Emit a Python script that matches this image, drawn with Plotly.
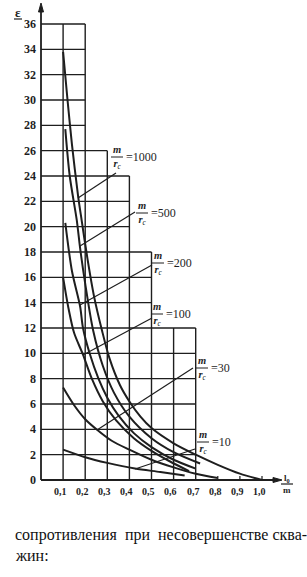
import plotly.graph_objects as go

# ---------------- data ----------------
ratios = ["1000", "500", "200", "100", "30", "10"]

h_1000 = [0.10, 0.12, 0.14, 0.168, 0.184, 0.21, 0.24, 0.276, 0.31, 0.357, 0.40, 0.45, 0.50, 0.60, 0.70, 0.80, 0.90, 1.00]
e_1000 = [33.8, 30.0, 26.5, 22.4, 20.5, 17.5, 14.5, 11.8, 9.6, 7.5, 6.2, 5.0, 4.1, 2.9, 2.0, 1.2, 0.5, 0.0]

h_500 = [0.11, 0.13, 0.162, 0.177, 0.20, 0.236, 0.28, 0.33, 0.40, 0.50, 0.60, 0.72]
e_500 = [27.7, 24.0, 20.5, 18.3, 15.5, 11.8, 9.0, 6.9, 5.0, 3.3, 2.2, 1.3]

h_200 = [0.11, 0.14, 0.177, 0.19, 0.22, 0.26, 0.30, 0.35, 0.42, 0.50, 0.60, 0.70]
e_200 = [20.3, 16.5, 13.7, 12.0, 10.0, 8.0, 6.5, 5.1, 3.7, 2.6, 1.6, 0.9]

h_100 = [0.10, 0.125, 0.15, 0.19, 0.23, 0.28, 0.34, 0.42, 0.50, 0.58, 0.67]
e_100 = [16.0, 13.5, 11.6, 9.9, 8.0, 6.2, 4.7, 3.3, 2.3, 1.5, 0.7]

h_30 = [0.10, 0.15, 0.20, 0.255, 0.32, 0.40, 0.50, 0.60, 0.70, 0.80]
e_30 = [7.3, 5.9, 4.8, 3.95, 3.1, 2.4, 1.6, 1.0, 0.5, 0.15]

h_10 = [0.10, 0.20, 0.30, 0.425, 0.54, 0.65]
e_10 = [2.4, 1.8, 1.35, 0.9, 0.63, 0.35]

x_ticks = [0.1, 0.2, 0.3, 0.4, 0.5, 0.6, 0.7, 0.8, 0.9, 1.0]
x_tick_labels = ["0,1", "0,2", "0,3", "0,4", "0,5", "0,6", "0,7", "0,8", "0,9", "1,0"]
y_ticks = list(range(0, 37, 2))
y_tick_labels = [str(v) for v in y_ticks]

caption_lines = ["сопротивления  при  несовершенстве сква-", "жин:"]

# ---------------- layout helpers ----------------
W, H = 307, 577
X0PX, X1PX = 41.0, 262.0      # pixel of h=0 and h=1
Y0PX, Y36PX = 480.0, 24.0     # pixel of eps=0 and eps=36
SX = (X1PX - X0PX) / 1.0
SY = (Y0PX - Y36PX) / 36.0


def dx(px):
    return (px - X0PX) / SX


def dy(py):
    return (Y0PX - py) / SY


INK = "#1e1e1e"
SERIF = "Liberation Serif"

fig = go.Figure()

# stepped grid: vertical lines (h, top eps) and horizontal lines (eps, right h)
v_grid = [(0.1, 36), (0.2, 36), (0.3, 26), (0.4, 24), (0.5, 18), (0.6, 12), (0.7, 12)]
h_grid = [(36, 0.2), (34, 0.2), (32, 0.2), (30, 0.2), (28, 0.2), (26, 0.3),
          (24, 0.4), (22, 0.4), (20, 0.4), (18, 0.5), (16, 0.5), (14, 0.5),
          (12, 0.7), (10, 0.7), (8, 0.7), (6, 0.7), (4, 0.7), (2, 0.7)]

shapes = []
for xv, top in v_grid:
    shapes.append(dict(type="line", xref="x", yref="y", x0=xv, x1=xv, y0=0, y1=top,
                       line=dict(color=INK, width=1.4)))
for yv, right in h_grid:
    shapes.append(dict(type="line", xref="x", yref="y", x0=0, x1=right, y0=yv, y1=yv,
                       line=dict(color=INK, width=1.4)))

# axes
shapes.append(dict(type="line", xref="x", yref="y", x0=0, x1=dx(276), y0=0, y1=0,
                   line=dict(color=INK, width=1.8)))
shapes.append(dict(type="line", xref="x", yref="y", x0=0, x1=0, y0=0, y1=dy(8),
                   line=dict(color=INK, width=1.8)))
# small ticks on x axis beyond grid
for xv in [0.8, 0.9, 1.0]:
    shapes.append(dict(type="line", xref="x", yref="y", x0=xv, x1=xv, y0=0, y1=dy(476),
                       line=dict(color=INK, width=1.2)))

# arrowheads
shapes.append(dict(type="path", xref="x", yref="y",
                   path=f"M {dx(41)} {dy(3)} L {dx(38.5)} {dy(12)} L {dx(43.5)} {dy(12)} Z",
                   fillcolor=INK, line=dict(color=INK, width=1)))
shapes.append(dict(type="path", xref="x", yref="y",
                   path=f"M {dx(282)} {dy(480)} L {dx(273)} {dy(477.5)} L {dx(273)} {dy(482.5)} Z",
                   fillcolor=INK, line=dict(color=INK, width=1)))

# curves
curve_data = [(h_1000, e_1000), (h_500, e_500), (h_200, e_200),
              (h_100, e_100), (h_30, e_30), (h_10, e_10)]
for name, (hx, ey) in zip(ratios, curve_data):
    fig.add_trace(go.Scatter(x=hx, y=ey, mode="lines", name=name,
                             line=dict(color=INK, width=2, shape="spline", smoothing=0.8),
                             hoverinfo="skip", showlegend=False))

annotations = []

# tick labels
for xv, lab in zip(x_ticks, x_tick_labels):
    annotations.append(dict(x=xv - 0.012, y=dy(491), xref="x", yref="y", text=f"<b>{lab}</b>",
                            showarrow=False, xanchor="center", yanchor="middle",
                            font=dict(family=SERIF, size=10, color=INK)))
for yv, lab in zip(y_ticks, y_tick_labels):
    annotations.append(dict(x=dx(38), y=yv, xref="x", yref="y", text=f"<b>{lab}</b>",
                            showarrow=False, xanchor="right", yanchor="middle",
                            font=dict(family=SERIF, size=12, color=INK)))

# axis titles
annotations.append(dict(x=dx(18), y=dy(12), xref="x", yref="y", text="<b>ε</b>",
                        showarrow=False, xanchor="center", yanchor="middle",
                        font=dict(family=SERIF, size=13, color=INK)))
shapes.append(dict(type="line", xref="x", yref="y", x0=dx(14), x1=dx(22), y0=dy(19), y1=dy(19),
                   line=dict(color=INK, width=1.2)))
annotations.append(dict(x=dx(287), y=dy(484), xref="x", yref="y",
                        text="<b>l<sub>0</sub></b><br><b>m</b>",
                        showarrow=False, xanchor="center", yanchor="middle",
                        font=dict(family=SERIF, size=9, color=INK)))
shapes.append(dict(type="line", xref="x", yref="y", x0=dx(281), x1=dx(293), y0=dy(484), y1=dy(484),
                   line=dict(color=INK, width=1.2)))

# curve labels: (fraction centre/line px, leader start px, leader end px)
label_pos = {
    "1000": ((117, 157), (116, 173), (78, 198)),
    "500": ((142, 213), (135, 212), (80, 246)),
    "200": ((158, 263), (152, 265), (80, 305)),
    "100": ((157, 314), (152, 318), (83, 355)),
    "30": ((202, 368), (193, 368), (97, 430)),
    "10": ((203, 442), (195, 449), (135, 469)),
}
for name in ratios:
    (cx, cy), (lx0, ly0), (lx1, ly1) = label_pos[name]
    annotations.append(dict(x=dx(cx), y=dy(cy), xref="x", yref="y",
                            text="<i><b>m</b></i><br><i><b>r</b></i><sub><i>c</i></sub>",
                            showarrow=False, xanchor="center", yanchor="middle",
                            font=dict(family=SERIF, size=10.5, color=INK)))
    annotations.append(dict(x=dx(cx + 7), y=dy(cy), xref="x", yref="y", text="=" + name,
                            showarrow=False, xanchor="left", yanchor="middle",
                            font=dict(family=SERIF, size=12, color=INK)))
    shapes.append(dict(type="line", xref="x", yref="y", x0=dx(cx - 6), x1=dx(cx + 6),
                       y0=dy(cy), y1=dy(cy), line=dict(color=INK, width=1)))
    shapes.append(dict(type="line", xref="x", yref="y", x0=dx(lx0), x1=dx(lx1),
                       y0=dy(ly0), y1=dy(ly1), line=dict(color=INK, width=1.2)))

# caption
for i, line in enumerate(caption_lines):
    annotations.append(dict(x=13 / W, y=1 - (535 + 20 * i) / H, xref="paper", yref="paper",
                            text=line, showarrow=False, xanchor="left", yanchor="middle",
                            font=dict(family=SERIF, size=16, color="#111")))

fig.update_layout(
    width=W, height=H,
    margin=dict(l=0, r=0, t=0, b=0),
    paper_bgcolor="white", plot_bgcolor="white",
    font=dict(family=SERIF),
    xaxis=dict(range=[dx(0), dx(W)], visible=False, fixedrange=True),
    yaxis=dict(range=[dy(H), dy(0)], visible=False, fixedrange=True),
    shapes=shapes, annotations=annotations,
)

fig.write_html("out.html")
